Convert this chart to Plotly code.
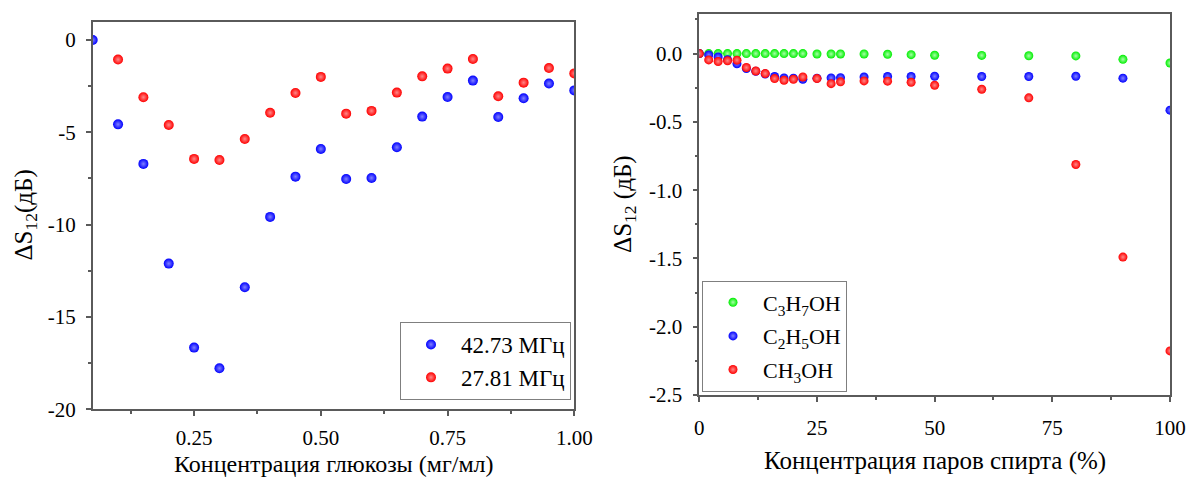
import plotly.graph_objects as go

FONT = "Liberation Serif"
W, H = 1191, 477

# ---------------- data: left chart (glucose) ----------------
glucose_x_blue = [0.05, 0.10, 0.15, 0.20, 0.25, 0.30, 0.35, 0.40, 0.45, 0.50,
                  0.55, 0.60, 0.65, 0.70, 0.75, 0.80, 0.85, 0.90, 0.95, 1.00]
s12_42_73MHz = [0.0, -4.57, -6.71, -12.11, -16.66, -17.78, -13.39, -9.58, -7.40, -5.90,
                -7.53, -7.47, -5.81, -4.15, -3.09, -2.20, -4.17, -3.16, -2.36, -2.73]
glucose_x_red = [0.10, 0.15, 0.20, 0.25, 0.30, 0.35, 0.40, 0.45, 0.50,
                 0.55, 0.60, 0.65, 0.70, 0.75, 0.80, 0.85, 0.90, 0.95, 1.00]
s12_27_81MHz = [-1.06, -3.10, -4.60, -6.44, -6.50, -5.36, -3.94, -2.87, -2.00,
                -3.99, -3.84, -2.85, -1.97, -1.55, -1.03, -3.05, -2.31, -1.52, -1.81]

left_xtick_vals = [0.25, 0.50, 0.75, 1.00]
left_xtick_text = ["0.25", "0.50", "0.75", "1.00"]
left_ytick_vals = [0, -5, -10, -15, -20]
left_ytick_text = ["0", "-5", "-10", "-15", "-20"]

# ---------------- data: right chart (alcohol vapour) ----------------
vapor_conc = [0, 2, 4, 6, 8, 10, 12, 14, 16, 18, 20, 22, 25, 28, 30, 35, 40, 45, 50, 60, 70, 80, 90, 100]
s12_c3h7oh = [0, 0, 0, 0, 0, 0, 0, 0, 0, 0, 0, 0, -0.003, -0.003, -0.003, -0.003,
              -0.005, -0.008, -0.012, -0.013, -0.016, -0.017, -0.042, -0.069]
s12_c2h5oh = [0, -0.01, -0.025, -0.045, -0.075, -0.11, -0.13, -0.15, -0.168, -0.178, -0.18, -0.188,
              -0.18, -0.178, -0.176, -0.171, -0.168, -0.168, -0.166, -0.168, -0.168, -0.166, -0.18, -0.414]
s12_ch3oh = [0, -0.046, -0.058, -0.052, -0.048, -0.102, -0.127, -0.146, -0.183, -0.195, -0.188, -0.171,
             -0.183, -0.22, -0.207, -0.2, -0.202, -0.21, -0.232, -0.261, -0.324, -0.812, -1.49, -2.177]

right_xtick_vals = [0, 25, 50, 75, 100]
right_ytick_vals = [0.0, -0.5, -1.0, -1.5, -2.0, -2.5]
right_ytick_text = ["0.0", "-0.5", "-1.0", "-1.5", "-2.0", "-2.5"]

# ---------------- styling ----------------
AX = "#5a5a5a"
BLUE, RED, GREEN = "#0000ff", "#ff0000", "#00ee00"
LIGHT = {BLUE: "#8080ff", RED: "#ff8888", GREEN: "#a8ffa8"}


def px_x(p):
    return p / W


def px_y(p):
    return 1 - p / H


def ball(color, size):
    return dict(color=color, size=size, line=dict(width=0),
                gradient=dict(type="radial", color=LIGHT[color]))


fig = go.Figure()

fig.add_trace(go.Scatter(x=glucose_x_blue, y=s12_42_73MHz, mode="markers", name="42.73 МГц",
                         marker=ball(BLUE, 10), xaxis="x", yaxis="y", legend="legend"))
fig.add_trace(go.Scatter(x=glucose_x_red, y=s12_27_81MHz, mode="markers", name="27.81 МГц",
                         marker=ball(RED, 10), xaxis="x", yaxis="y", legend="legend"))

fig.add_trace(go.Scatter(x=vapor_conc, y=s12_c3h7oh, mode="markers", name="C<sub>3</sub>H<sub>7</sub>OH",
                         marker=ball(GREEN, 9), xaxis="x2", yaxis="y2", legend="legend2", legendgroup="g"))
fig.add_trace(go.Scatter(x=vapor_conc, y=s12_c2h5oh, mode="markers", name="C<sub>2</sub>H<sub>5</sub>OH",
                         marker=ball(BLUE, 9), xaxis="x2", yaxis="y2", legend="legend2", legendgroup="b"))
fig.add_trace(go.Scatter(x=vapor_conc, y=s12_ch3oh, mode="markers", name="CH<sub>3</sub>OH",
                         marker=ball(RED, 9), xaxis="x2", yaxis="y2", legend="legend2", legendgroup="r"))

axis_common = dict(showline=True, linecolor=AX, linewidth=1.5, mirror=True,
                   ticks="outside", ticklen=5, tickwidth=1.5, tickcolor=AX,
                   showgrid=False, zeroline=False, automargin=False,
                   tickfont=dict(family=FONT, size=21, color="black"))

L_left, L_right, L_top, L_bot = 92.7, 574.3, 21.7, 409.3
R_left, R_right, R_top, R_bot = 699.3, 1170.0, 14.0, 395.0

fig.update_layout(
    width=W, height=H,
    margin=dict(l=0, r=0, t=0, b=0),
    paper_bgcolor="white", plot_bgcolor="white",
    font=dict(family=FONT, color="black"),
    xaxis=dict(domain=[px_x(L_left), px_x(L_right)], range=[0.05, 1.0], anchor="y",
               tickmode="array", tickvals=left_xtick_vals, ticktext=left_xtick_text,
               ticklabelstandoff=4,
               minor=dict(tickmode="linear", tick0=0, dtick=0.125, ticks="outside", ticklen=3,
                          tickwidth=1.5, tickcolor=AX),
               **axis_common),
    yaxis=dict(domain=[px_y(L_bot), px_y(L_top)], range=[-20, 0.99], anchor="x",
               tickmode="array", tickvals=left_ytick_vals, ticktext=left_ytick_text,
               ticklabelstandoff=6,
               minor=dict(tickmode="linear", tick0=0, dtick=2.5, ticks="outside", ticklen=3,
                          tickwidth=1.5, tickcolor=AX),
               **axis_common),
    xaxis2=dict(domain=[px_x(R_left), px_x(R_right)], range=[0, 100], anchor="y2",
                tickmode="array", tickvals=right_xtick_vals,
                ticklabelstandoff=8,
                minor=dict(tickmode="linear", tick0=0, dtick=12.5, ticks="outside", ticklen=3,
                           tickwidth=1.5, tickcolor=AX),
                **axis_common),
    yaxis2=dict(domain=[px_y(R_bot), px_y(R_top)], range=[-2.5, 0.29], anchor="x2",
                tickmode="array", tickvals=right_ytick_vals, ticktext=right_ytick_text,
                ticklabelstandoff=6,
                minor=dict(tickmode="linear", tick0=0, dtick=0.25, ticks="outside", ticklen=3,
                           tickwidth=1.5, tickcolor=AX),
                **axis_common),
    legend=dict(x=px_x(571), y=px_y(400), xanchor="right", yanchor="bottom",
                bgcolor="white", bordercolor="#7f7f7f", borderwidth=1,
                font=dict(family=FONT, size=23, color="black"),
                itemwidth=50, tracegroupgap=0),
    legend2=dict(x=px_x(702), y=px_y(391.5), xanchor="left", yanchor="bottom",
                 bgcolor="white", bordercolor="#7f7f7f", borderwidth=1,
                 font=dict(family=FONT, size=22, color="black"),
                 itemwidth=50, tracegroupgap=2),
    showlegend=True,
)

fig.add_annotation(text="Концентрация глюкозы (мг/мл)", x=px_x((L_left + L_right) / 2), y=px_y(464),
                   xref="paper", yref="paper", xanchor="center", yanchor="middle",
                   showarrow=False, borderpad=0, font=dict(family=FONT, size=24, color="black"))
fig.add_annotation(text="Концентрация паров спирта (%)", x=px_x((R_left + R_right) / 2), y=px_y(461),
                   xref="paper", yref="paper", xanchor="center", yanchor="middle",
                   showarrow=False, borderpad=0, font=dict(family=FONT, size=25, color="black"))
fig.add_annotation(text="ΔS<sub>12</sub>(дБ)", x=px_x(25), y=px_y((L_top + L_bot) / 2),
                   xref="paper", yref="paper", xanchor="center", yanchor="middle", textangle=-90,
                   showarrow=False, font=dict(family=FONT, size=25, color="black"))
fig.add_annotation(text="ΔS<sub>12</sub> (дБ)", x=px_x(624.4), y=px_y((R_top + R_bot) / 2),
                   xref="paper", yref="paper", xanchor="center", yanchor="middle", textangle=-90,
                   showarrow=False, font=dict(family=FONT, size=25, color="black"))

fig.write_html("out.html", config={"displayModeBar": False},
               post_script="document.body.style.margin='0';document.body.style.overflow='hidden';")
